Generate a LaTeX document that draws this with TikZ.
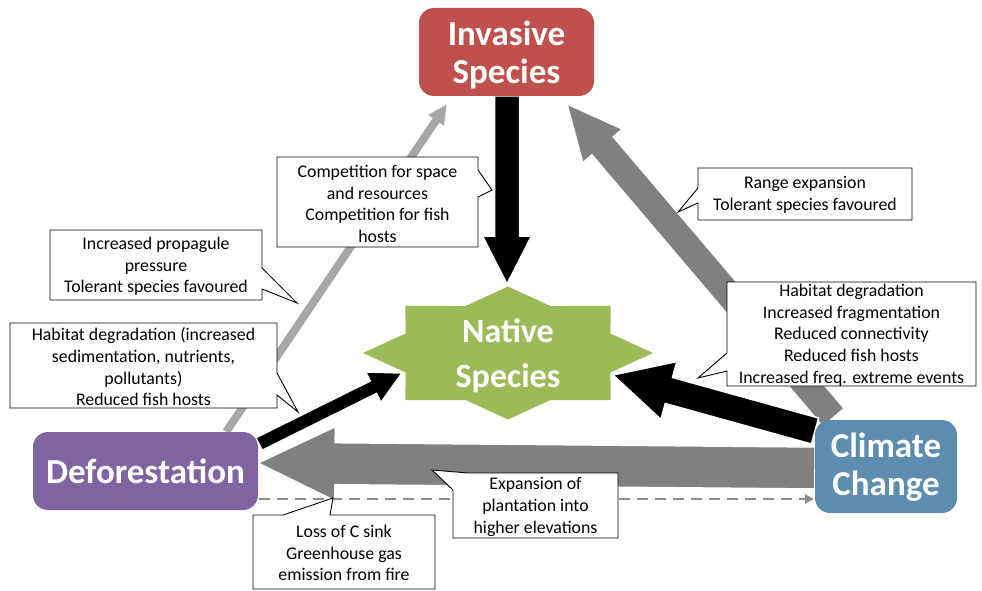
\documentclass[tikz,border=0pt]{standalone}
\usepackage{fontspec}
\setmainfont{Carlito}
\usetikzlibrary{calc,arrows.meta}
\definecolor{invred}{HTML}{C0504D}
\definecolor{defpurple}{HTML}{8064A2}
\definecolor{ccblue}{HTML}{5D8CB1}
\definecolor{nsgreen}{HTML}{9BBB59}
\definecolor{darkgr}{HTML}{808080}
\definecolor{lightgr}{HTML}{A6A6A6}
\definecolor{dashgr}{HTML}{8C8C8C}
\pgfdeclarelayer{background}
\pgfsetlayers{background,main}
\tikzset{
  titlebox/.style={rounded corners=15pt, inner sep=0pt},
  titletext/.style={text=white, font=\fontsize{35}{38}\selectfont\bfseries, align=center, inner sep=0pt},
  nativetext/.style={text=white, font=\fontsize{34}{45}\selectfont\bfseries, align=center, inner sep=0pt},
  calloutline/.style={draw=black, fill=white, line width=0.9pt, line join=miter},
  callouttext/.style={font=\fontsize{17.8}{21.7}\selectfont, align=center, inner sep=0pt},
  blackarrow/.style={fill=black, draw=white, line width=1.5pt, line join=miter},
  grayarrow/.style={fill=darkgr, draw=white, line width=1.5pt, line join=miter},
  lightarrow/.style={fill=lightgr, draw=white, line width=0.4pt, line join=miter},
  dashedconn/.style={draw=dashgr, line width=2pt, dash pattern=on 11pt off 7pt}
}
\newcommand{\blockarrow}[6]{%
  \coordinate (ba-h) at ($(#2)!#5!(#1)$);
  \path[#6] ($(#1)!#3!90:(#2)$) -- ($(ba-h)!#3!90:(#2)$) -- ($(ba-h)!#4!90:(#2)$) -- (#2)
     -- ($(ba-h)!#4!-90:(#2)$) -- ($(ba-h)!#3!-90:(#2)$) -- ($(#1)!#3!-90:(#2)$) -- cycle;
}
\begin{document}
\begin{tikzpicture}[x=1pt,y=-1pt]
\useasboundingbox (0,0) rectangle (982,591);

% main nodes
\node[titlebox, fill=invred, minimum width=175pt, minimum height=88pt] (inv) at (506.5,52) {};
\node[titletext] (invt) at (506.5,55) {Invasive\\Species};
\node[titlebox, fill=defpurple, minimum width=225pt, minimum height=78pt] (def) at (145.5,471) {};
\node[titletext] (deft) at (145.5,471) {Deforestation};
\node[titlebox, fill=ccblue, minimum width=142pt, minimum height=93pt] (cc) at (886,466.5) {};
\node[titletext] (cct) at (886,467.5) {Climate\\Change};
\node[nativetext] (ns) at (508,356) {Native\\Species};

% connector end points
\coordinate (inv-in) at (507,96);
\coordinate (ns-top) at (507,284);
\coordinate (def-top) at (226,432);
\coordinate (inv-bl) at (447,104);
\coordinate (cc-tl) at (833.5,417.5);
\coordinate (inv-br) at (567,104);
\coordinate (cc-l) at (815,431);
\coordinate (ns-r) at (613,375);
\coordinate (def-r1) at (259,444);
\coordinate (ns-l) at (402,373);
\coordinate (cc-l2) at (815,468);
\coordinate (def-r2) at (258,463);
\coordinate (def-r3) at (259,499);
\coordinate (cc-l3) at (814,499);

\begin{pgfonlayer}{background}
  % native species star
  \begin{scope}[shift={(508,353)}, x=145pt, y=66.5pt]
    \fill[nsgreen] (90:1) \foreach \i in {1,...,15} { -- ({90-22.5*\i}:{ifthenelse(mod(\i,2)==0,1,0.765)}) } -- cycle;
  \end{scope}
  % block arrows
  \blockarrow{def-top}{inv-bl}{4.3pt}{10pt}{20pt}{lightarrow}
  \blockarrow{cc-tl}{inv-br}{14pt}{26pt}{55pt}{grayarrow}
  \blockarrow{cc-l2}{def-r2}{21pt}{37pt}{77pt}{grayarrow}
  \blockarrow{inv-in}{ns-top}{12.5pt}{24.5pt}{48pt}{blackarrow}
  \blockarrow{cc-l}{ns-r}{13.5pt}{30pt}{58pt}{blackarrow}
  \blockarrow{def-r1}{ns-l}{7pt}{17pt}{32pt}{blackarrow}
  \draw[dashedconn, -{Triangle[length=9pt,width=9pt]}] (def-r3) -- (cc-l3);
\end{pgfonlayer}

% callouts
\path[calloutline] (277,157) -- (478,157) -- (478,170) -- (492,190) -- (478,197) -- (478,247) -- (277,247) -- cycle;
\node[callouttext] (ca) at (377.5,204) {Competition for space\\and resources\\Competition for fish\\hosts};

\path[calloutline] (50,230) -- (262,230) -- (262,268) -- (297,303) -- (262,289) -- (262,300) -- (50,300) -- cycle;
\node[callouttext] (cb) at (156,266.5) {Increased propagule\\pressure\\Tolerant species favoured};

\path[calloutline] (10,323) -- (277,323) -- (277,373) -- (298,412) -- (277,395) -- (277,408) -- (10,408) -- cycle;
\node[callouttext] (cc2) at (143.5,367) {Habitat degradation (increased\\sedimentation, nutrients,\\pollutants)\\Reduced fish hosts};

\path[calloutline] (698,168) -- (912,168) -- (912,220) -- (698,220) -- (698,203) -- (678,212) -- (698,188) -- cycle;
\node[callouttext] (cd) at (805,195) {Range expansion\\Tolerant species favoured};

\path[calloutline] (727,282) -- (976,282) -- (976,386) -- (727,386) -- (727,371) -- (698,378) -- (727,353) -- cycle;
\node[callouttext] (ce) at (851.5,335) {Habitat degradation\\Increased fragmentation\\Reduced connectivity\\Reduced fish hosts\\Increased freq. extreme events};

\path[calloutline] (253,515) -- (283,515) -- (333,498) -- (330,515) -- (435,515) -- (435,589) -- (253,589) -- cycle;
\node[callouttext] (cf) at (344,553) {Loss of C sink\\Greenhouse gas\\emission from fire};

\path[calloutline] (453,490) -- (432,470) -- (468,473) -- (618,473) -- (618,538) -- (453,538) -- cycle;
\node[callouttext] (cg) at (535.5,507) {Expansion of\\plantation into\\higher elevations};
\end{tikzpicture}
\end{document}
